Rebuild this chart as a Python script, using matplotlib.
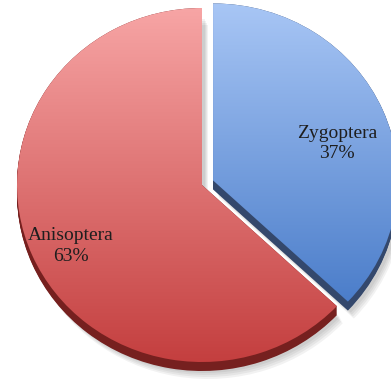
import numpy as np
import matplotlib
matplotlib.use("Agg")
import matplotlib.pyplot as plt
from matplotlib.patches import Wedge
from matplotlib.colors import LinearSegmentedColormap

categories = ["Zygoptera", "Anisoptera"]
values = [37, 63]
explode = [0.065, 0.0]
colors_top = ["#a8c6f5", "#f7a5a5"]
colors_bottom = ["#3a70c2", "#c43f3f"]
side_colors = ["#34486c", "#76201f"]
label_pos = [(0.73, 0.235), (-0.71, -0.345)]

W, H = 391, 379
cx, cy = 202, 185      # pie centre in pixels (from top-left)
rx, ry = 185, 177      # radii in pixels

fig = plt.figure(figsize=(W / 100, H / 100), dpi=100)
ax = fig.add_axes([0, 0, 1, 1])

wedges, _ = ax.pie(values, explode=explode, startangle=90, counterclock=False,
                   radius=1.0, wedgeprops=dict(linewidth=0))

depth = 9.0 / ry
px_x = 1.0 / rx
px_y = 1.0 / ry

for i, w in enumerate(wedges):
    c = w.center
    t1, t2 = w.theta1, w.theta2
    # soft shadow
    for k, a in enumerate([0.05, 0.05, 0.05, 0.05]):
        off = 2 + k * 2
        sh = Wedge((c[0] + 3 * px_x + k * px_x, c[1] - depth - off * px_y), 1.0, t1, t2,
                   facecolor="#000000", alpha=a, linewidth=0, zorder=1)
        ax.add_patch(sh)
    # 3D side
    for s in np.linspace(0, depth, 12):
        side = Wedge((c[0], c[1] - s), 1.0, t1, t2, facecolor=side_colors[i],
                     linewidth=0, zorder=2)
        ax.add_patch(side)
    # top face with gradient
    w.set_facecolor("none")
    w.set_zorder(4)
    cmap = LinearSegmentedColormap.from_list("g%d" % i, [colors_bottom[i], colors_top[i]])
    grad = np.linspace(0, 1, 256).reshape(-1, 1)
    im = ax.imshow(grad, extent=[c[0] - 1, c[0] + 1, c[1] - 1, c[1] + 1], origin="lower",
                   cmap=cmap, aspect="auto", zorder=3, interpolation="bilinear")
    im.set_clip_path(w)

for (x, y), cat, v in zip(label_pos, categories, values):
    ax.text(x, y, f"{cat}\n{v}%", ha="center", va="center", fontsize=14,
            family="Liberation Serif", color="#1e1e1e", linespacing=1.25, zorder=6)

ax.set_aspect("auto")
ax.set_xlim(-cx / rx, (W - cx) / rx)
ax.set_ylim(-(H - cy) / ry, cy / ry)
ax.axis("off")
fig.savefig("out.png", dpi=100, facecolor="white")
